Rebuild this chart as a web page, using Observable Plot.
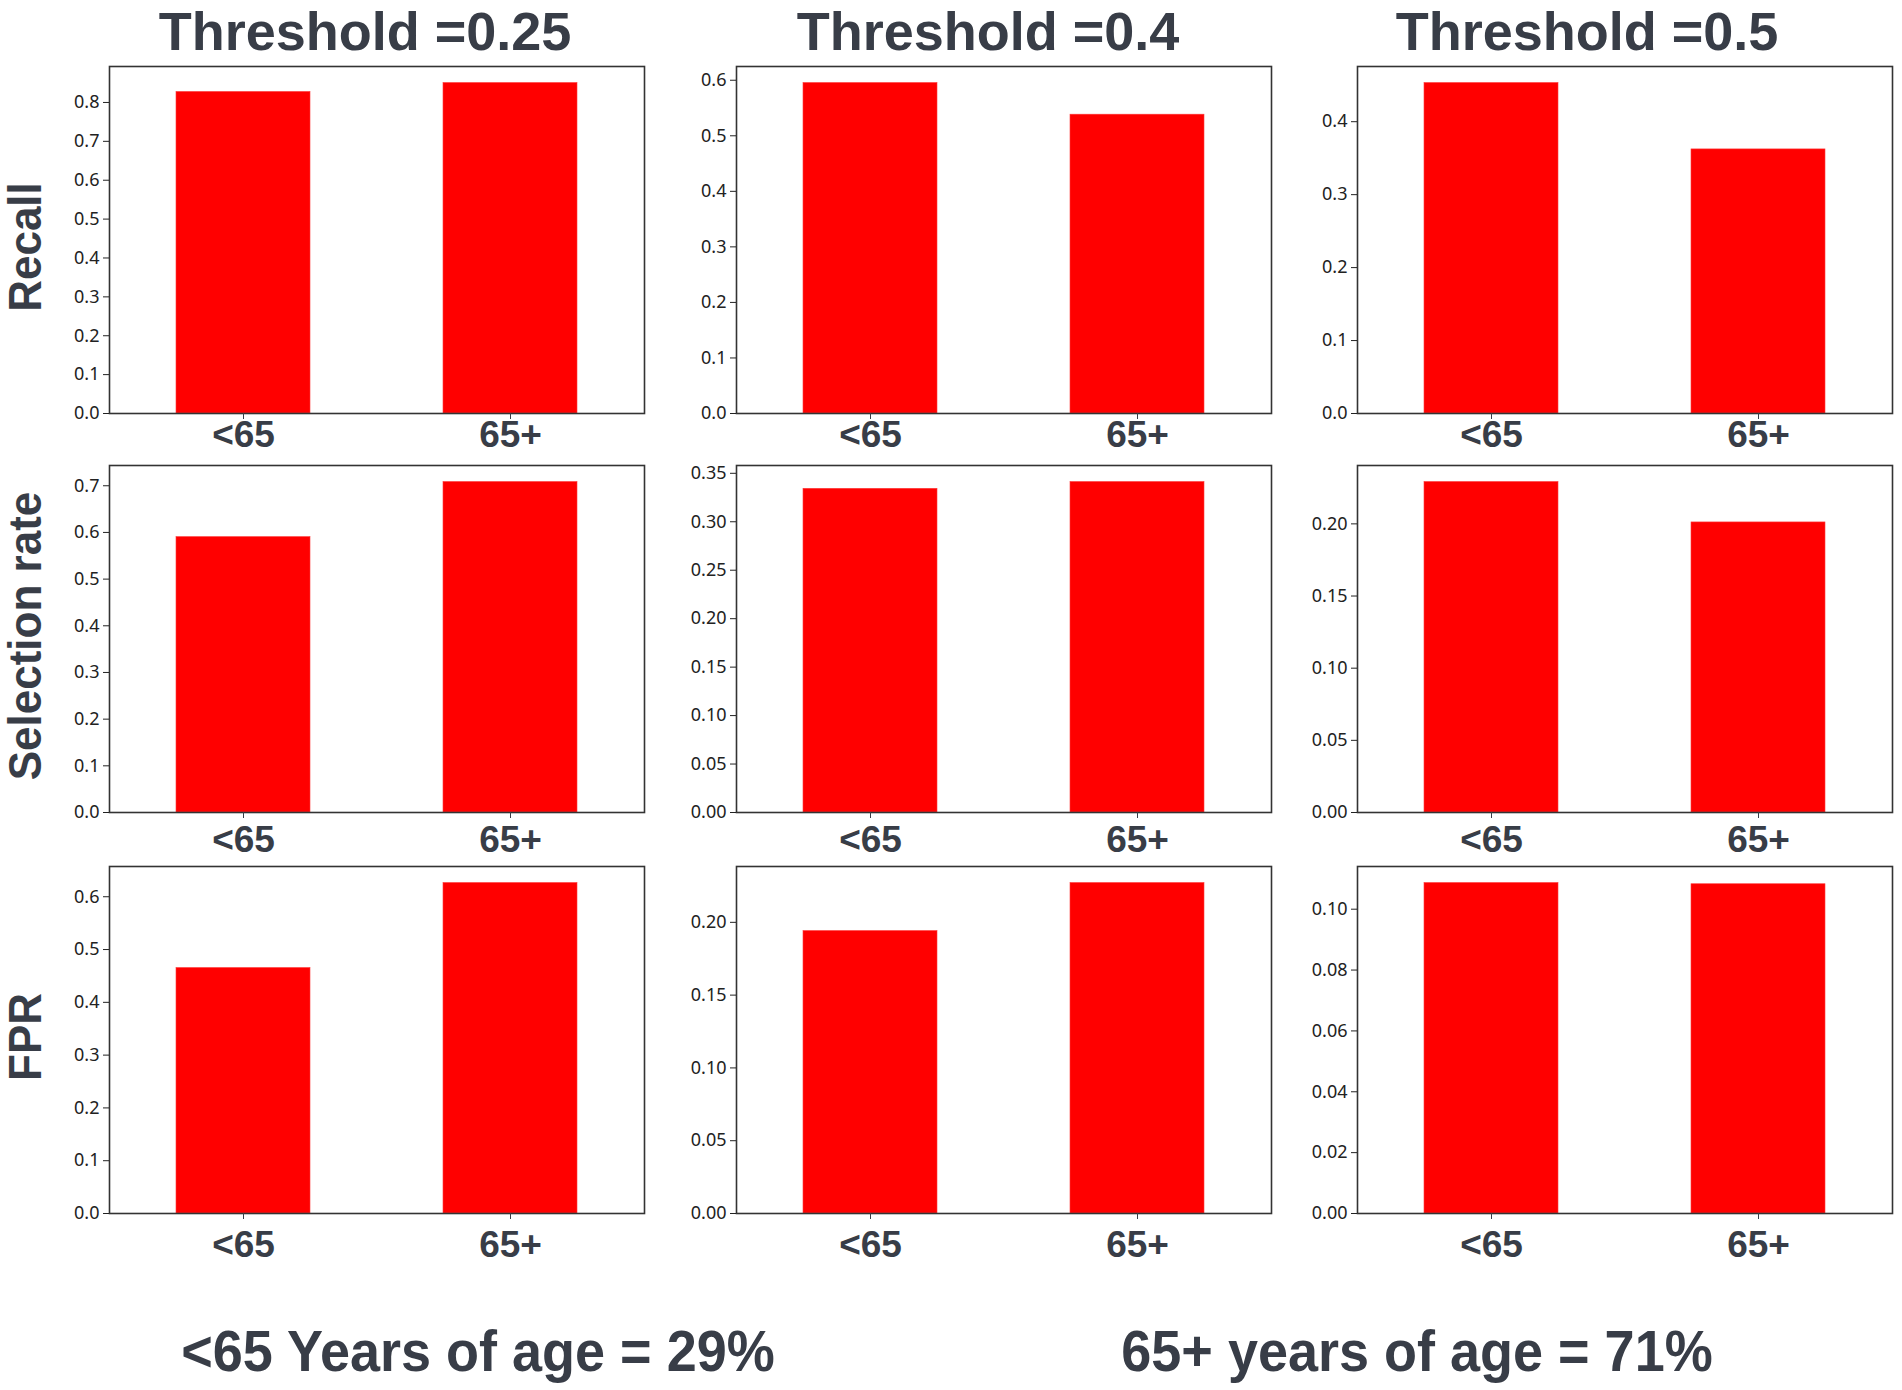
<!DOCTYPE html>
<html>
<head>
<meta charset="utf-8">
<script src="https://cdn.jsdelivr.net/npm/d3@7"></script>
<script src="https://cdn.jsdelivr.net/npm/@observablehq/plot@0.6"></script>
<style>
  body { margin: 0; background: #fff; }
  #fig { position: relative; width: 1902px; height: 1390px; background: #fff; overflow: hidden; }
  .lab { position: absolute; font-family: "Liberation Sans", Arial, sans-serif; font-weight: bold;
         color: #383d47; white-space: nowrap; line-height: 1; transform: translate(-50%, -50%); }
  .foot { transform: translate(-50%, -50%) scale(1, 1.06); }
  .rot { transform: translate(-50%, -50%) rotate(-90deg) scale(1, 1.04); }
  .panel { position: absolute; }
</style>
</head>
<body>
<div id="fig"></div>
<script>
// ---- data ----
const groups = ["<65", "65+"];
const thresholdTitles = ["Threshold =0.25", "Threshold =0.4", "Threshold =0.5"];
const metricLabels = ["Recall", "Selection rate", "FPR"];
// rows: metric; columns: threshold 0.25, 0.4, 0.5; inner: [<65, 65+]
const recall = [[0.827, 0.850], [0.595, 0.538], [0.453, 0.362]];
const selectionRate = [[0.590, 0.708], [0.334, 0.341], [0.229, 0.201]];
const fpr = [[0.465, 0.626], [0.194, 0.227], [0.1086, 0.1082]];
const tickSteps = [[0.1, 0.1, 0.1], [0.1, 0.05, 0.05], [0.1, 0.05, 0.02]];
const footnotes = ["<65 Years of age = 29%", "65+ years of age = 71%"];

// ---- layout ----
const series = [recall, selectionRate, fpr];
const colLeft = [109, 736, 1357];
const rowTop = [66, 465, 866];
const FW = 535, FH = 347;
const ML = 70, MR = 12, MT = 10, MB = 60;
const titleX = [365, 988, 1587], titleY = 31;
const rowLabelX = 25, rowLabelY = [247, 636, 1037];
const footX = [478, 1417], footY = 1351;
const xPad = [1.5, 7.5, 11];

const fig = document.getElementById("fig");

function addLabel(text, x, y, size, cls) {
  const d = document.createElement("div");
  d.className = "lab" + (cls ? " " + cls : "");
  d.textContent = text;
  d.style.left = x + "px";
  d.style.top = y + "px";
  d.style.fontSize = size + "px";
  fig.appendChild(d);
}

thresholdTitles.forEach((t, c) => addLabel(t, titleX[c], titleY, 54, ""));
metricLabels.forEach((m, r) => addLabel(m, rowLabelX, rowLabelY[r], 44, "rot"));
footnotes.forEach((f, i) => addLabel(f, footX[i], footY, 54, "foot"));

for (let r = 0; r < 3; r++) {
  for (let c = 0; c < 3; c++) {
    const values = series[r][c];
    const data = groups.map((g, i) => ({group: g, value: values[i]}));
    const ymax = d3.max(values) * 1.05;
    const step = tickSteps[r][c];
    const nTicks = Math.floor(ymax / step + 1e-9) + 1;
    const ticks = d3.range(nTicks).map(k => +(k * step).toFixed(4));
    const fmt = d3.format(step < 0.1 ? ".2f" : ".1f");
    const chart = Plot.plot({
      width: ML + FW + MR,
      height: MT + FH + MB,
      marginLeft: ML, marginRight: MR, marginTop: MT, marginBottom: MB,
      style: {background: "transparent", overflow: "visible"},
      x: {type: "band", domain: groups, paddingInner: 0.5, paddingOuter: 0.25, label: null},
      y: {domain: [0, ymax], label: null},
      marks: [
        Plot.barY(data, {x: "group", y: "value", fill: "#ff0000", stroke: "#ff3a3a", strokeWidth: 0.6}),
        Plot.frame({stroke: "#333", strokeWidth: 1.6}),
        Plot.axisY({ticks, tickFormat: fmt, tickSize: 6, tickPadding: 4, fontSize: 18,
                    fontFamily: "Noto Sans", label: null, color: "#222"}),
        Plot.axisX({tickSize: 6, tickPadding: xPad[r], fontSize: 37, fontWeight: "bold",
                    fontFamily: "Liberation Sans", label: null, color: "#383d47"})
      ]
    });
    chart.classList.add("panel");
    chart.style.left = (colLeft[c] - ML) + "px";
    chart.style.top = (rowTop[r] - MT) + "px";
    fig.appendChild(chart);
  }
}
</script>
</body>
</html>
